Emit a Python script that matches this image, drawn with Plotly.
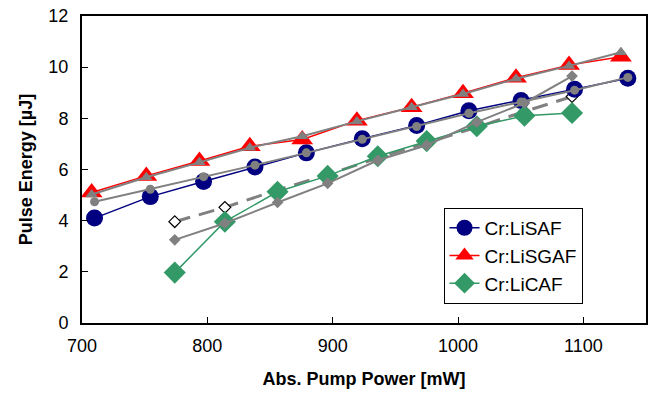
import plotly.graph_objects as go

# Cr:LiSAF
lisaf_x = [710, 754.5, 797, 838, 879, 923.6, 967, 1008.7, 1050.3, 1093, 1135.5]
lisaf_y = [4.10, 4.94, 5.53, 6.10, 6.65, 7.20, 7.72, 8.30, 8.70, 9.14, 9.57]
lisaf_model_y = [4.74, 5.23, 5.72, 6.17, 6.65, 7.18, 7.68, 8.20, 8.64, 9.10, 9.60]

# Cr:LiSGAF
lisgaf_x = [707.7, 751.3, 793.7, 833.9, 875.7, 919.3, 963, 1004, 1046.3, 1088.6, 1130]
lisgaf_y = [5.10, 5.75, 6.33, 6.91, 7.17, 7.91, 8.43, 8.98, 9.59, 10.08, 10.41]
lisgaf_model_y = [5.02, 5.70, 6.28, 6.85, 7.30, 7.88, 8.43, 8.95, 9.55, 10.05, 10.58]

# Cr:LiCAF
licaf_x = [774, 814, 856, 896, 936, 975, 1015, 1053, 1091]
licaf_y = [1.97, 3.96, 5.13, 5.75, 6.52, 7.11, 7.69, 8.10, 8.21]
licaf_model_y = [3.25, 3.90, 4.71, 5.46, 6.36, 6.95, 7.85, 8.60, 9.65]
licaf_model2_y = [3.96, 4.52, 5.20, 5.80, 6.45, 7.05, 7.65, 8.27, 8.85]

FONT = "Arial, Liberation Sans"

fig = go.Figure()

# dashed model with open diamonds (drawn beneath)
fig.add_trace(go.Scatter(x=licaf_x, y=licaf_model2_y, mode="lines+markers", showlegend=False,
                         line=dict(color="#808080", width=3, dash="16px,9px"),
                         marker=dict(symbol="diamond", size=9, color="white",
                                     line=dict(color="black", width=1.2))))

fig.add_trace(go.Scatter(x=lisaf_x, y=lisaf_y, name="Cr:LiSAF", mode="lines+markers",
                         line=dict(color="#000080", width=1.5),
                         marker=dict(symbol="circle", size=17, color="#000080")))
fig.add_trace(go.Scatter(x=lisgaf_x, y=lisgaf_y, name="Cr:LiSGAF", mode="lines+markers",
                         line=dict(color="#FF0000", width=1.5),
                         marker=dict(symbol="triangle-up", size=19, color="#FF0000")))
fig.add_trace(go.Scatter(x=licaf_x, y=licaf_y, name="Cr:LiCAF", mode="lines+markers",
                         line=dict(color="#339966", width=1.5),
                         marker=dict(symbol="diamond", size=17, color="#339966")))

fig.add_trace(go.Scatter(x=lisaf_x, y=lisaf_model_y, mode="lines+markers", showlegend=False,
                         line=dict(color="#808080", width=2),
                         marker=dict(symbol="circle", size=9, color="#808080")))
fig.add_trace(go.Scatter(x=lisgaf_x, y=lisgaf_model_y, mode="lines+markers", showlegend=False,
                         line=dict(color="#808080", width=2),
                         marker=dict(symbol="triangle-up", size=11, color="#808080")))
fig.add_trace(go.Scatter(x=licaf_x, y=licaf_model_y, mode="lines+markers", showlegend=False,
                         line=dict(color="#808080", width=2),
                         marker=dict(symbol="diamond", size=9, color="#808080")))

axis_common = dict(showline=True, linecolor="black", linewidth=2, mirror=True,
                   ticks="inside", ticklen=6, tickwidth=1, tickcolor="black",
                   showgrid=False, zeroline=False,
                   tickfont=dict(family=FONT, size=18, color="black"))

fig.update_xaxes(range=[700, 1150], dtick=100, tick0=700, ticklabelstandoff=5,
                 title=dict(text="<b>Abs. Pump Power [mW]</b>", standoff=18,
                            font=dict(family=FONT, size=18, color="black")),
                 **axis_common)
fig.update_yaxes(range=[0, 12], dtick=2, tick0=0, ticklabelstandoff=8,
                 title=dict(text="<b>Pulse Energy [µJ]</b>", standoff=11,
                            font=dict(family=FONT, size=18, color="black")),
                 **axis_common)

fig.update_layout(
    width=654, height=394,
    margin=dict(l=82, r=6, t=14, b=71),
    plot_bgcolor="white", paper_bgcolor="white",
    font=dict(family=FONT, size=18, color="black"),
    legend=dict(x=0.641, y=0.375, xanchor="left", yanchor="top",
                bgcolor="white", bordercolor="black", borderwidth=1,
                font=dict(size=19), tracegroupgap=0, itemwidth=30),
)

fig.write_html("out.html")
